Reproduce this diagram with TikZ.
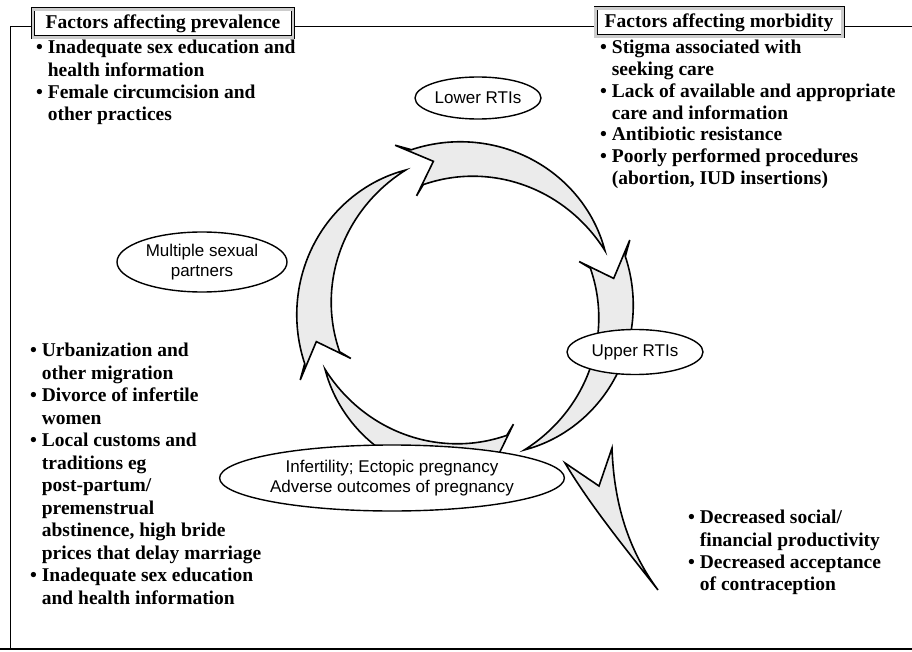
\documentclass[tikz,border=0pt]{standalone}
\usepackage{fontspec}
\setmainfont{Liberation Serif}
\setsansfont{Liberation Sans}
\usetikzlibrary{shapes.geometric}
\newcommand{\bu}{\textbullet\ }
\newcommand{\hang}{\hphantom{\textbullet\ }}
\newcommand{\crescent}[1]{%
  \draw[cres] ({#1}:179)
    -- plot[domain=0.05:1, samples=45, smooth, variable=\t] ({#1-90*\t}:{150.5+1.5*\t+18.5*(1-\t*\t)})
    -- plot[domain=1:0.05, samples=45, smooth, variable=\t] ({#1-90*\t}:{150.5+1.5*\t-18.5*(1-\t*\t)})
    -- ({#1}:124) -- ({#1-11}:152) -- cycle;}
\begin{document}
\begin{tikzpicture}[x=1pt,y=1pt,
  lbl/.style={font=\sffamily\fontsize{17}{20}\selectfont, align=center},
  oval/.style={ellipse, draw=black, line width=1.4pt, fill=white, inner sep=0pt, lbl},
  bul/.style={font=\bfseries\fontsize{19.5}{22.3}\selectfont, align=left, anchor=north west, inner sep=0pt},
  hdr/.style={draw=black, line width=0.9pt, double=gray!40, double distance=2.2pt, fill=white,
              font=\bfseries\fontsize{19.5}{22}\selectfont, inner sep=0pt},
  cres/.style={draw=black, line width=1.6pt, fill=gray!16, line join=miter},
  frameline/.style={line width=1pt}]
\useasboundingbox (0,0) rectangle (912,-652);
\fill[white] (0,0) rectangle (912,-652);

% frame
\draw[frameline] (10,-649) -- (10,-27) -- (912,-27);
\draw[line width=2pt] (0,-649) -- (912,-649);

% cycle of crescent arrows
\begin{scope}[shift={(465,-310)}]
  \crescent{113}
  \crescent{23}
  \crescent{-67}
  \crescent{-157}
\end{scope}

% outgoing arrow
\draw[cres] (565,-463) .. controls (590,-505) and (625,-548) .. (658,-590)
  .. controls (632,-555) and (614,-510) .. (612,-448) -- (599,-486) -- cycle;

% ellipses
\node[oval, minimum width=126, minimum height=42] (lower) at (478,-98) {Lower RTIs};
\node[oval, minimum width=170, minimum height=60] (multi) at (202,-262) {Multiple sexual\\partners};
\node[oval, minimum width=136, minimum height=45] (upper) at (635,-352) {Upper RTIs};
\node[oval, minimum width=275, minimum height=66] (infert) at (392,-478) {Infertility; Ectopic pregnancy\\Adverse outcomes of pregnancy};

% headers
\node[hdr, minimum width=260, minimum height=28] (hprev) at (163,-23.5) {Factors affecting prevalence};
\node[hdr, minimum width=247, minimum height=28] (hmorb) at (719,-22.5) {Factors affecting morbidity};

% bullet lists
\node[bul] (prevtop) at (36,-40) {\bu Inadequate sex education and\\
\hang health information\\
\bu Female circumcision and\\
\hang other practices};

\node[bul, font=\bfseries\fontsize{19.5}{21.8}\selectfont] (morbtop) at (600,-40) {\bu Stigma associated with\\
\hang seeking care\\
\bu Lack of available and appropriate\\
\hang care and information\\
\bu Antibiotic resistance\\
\bu Poorly performed procedures\\
\hang (abortion, IUD insertions)};

\node[bul, font=\bfseries\fontsize{19.5}{22.5}\selectfont] (prevbot) at (30,-343) {\bu Urbanization and\\
\hang other migration\\
\bu Divorce of infertile\\
\hang women\\
\bu Local customs and\\
\hang traditions eg\\
\hang post-partum/\\
\hang premenstrual\\
\hang abstinence, high bride\\
\hang prices that delay marriage\\
\bu Inadequate sex education\\
\hang and health information};

\node[bul] (conseq) at (688,-510) {\bu Decreased social/\\
\hang financial productivity\\
\bu Decreased acceptance\\
\hang of contraception};
\end{tikzpicture}
\end{document}
